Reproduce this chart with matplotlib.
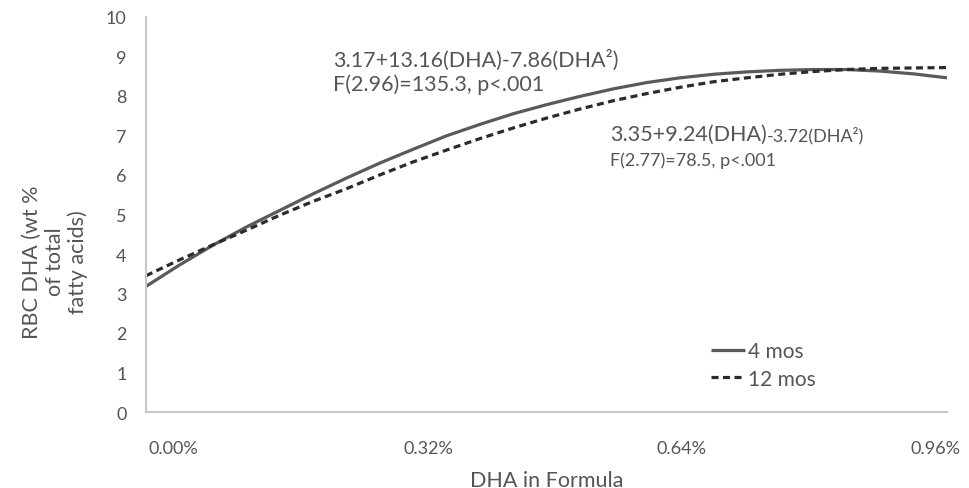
import matplotlib
matplotlib.use("Agg")
import matplotlib.pyplot as plt
from matplotlib.transforms import ScaledTranslation

plt.rcParams['font.family'] = ['Lato', 'DejaVu Sans']

dha = [0.00, 0.04, 0.08, 0.12, 0.16, 0.20, 0.24, 0.28, 0.32, 0.36, 0.40, 0.44, 0.48,
       0.52, 0.56, 0.60, 0.64, 0.68, 0.72, 0.76, 0.80, 0.84, 0.88, 0.92, 0.96]
mos4 = [3.18, 3.72, 4.22, 4.68, 5.10, 5.52, 5.92, 6.30, 6.65, 6.99, 7.28, 7.55, 7.78,
        7.99, 8.18, 8.34, 8.46, 8.55, 8.61, 8.65, 8.67, 8.67, 8.63, 8.56, 8.46]
mos12 = [3.45, 3.85, 4.23, 4.60, 4.98, 5.33, 5.65, 6.00, 6.33, 6.63, 6.92, 7.19, 7.44,
         7.67, 7.88, 8.06, 8.22, 8.36, 8.46, 8.55, 8.62, 8.67, 8.70, 8.71, 8.72]
xticks = [0.00, 0.32, 0.64, 0.96]
xticklabels = ['0.00%', '0.32%', '0.64%', '0.96%']
yticks = list(range(0, 11))

gray = '#555555'
fig = plt.figure(figsize=(9.69, 4.89), dpi=100)
ax = fig.add_axes([146/969, 1-413/489, 801/969, 395/489])

ax.plot(dha, mos4, color='#5a5a5a', lw=2.3, label='4 mos', solid_capstyle='butt')
ax.plot(dha, mos12, color='#2b2b2b', lw=2.3, ls=(0, (2.2, 1.4)), label='12 mos')

ax.set_xlim(0, 0.96)
ax.set_ylim(0, 10)
ax.set_yticks(yticks)
ax.set_xticks(xticks)
ax.set_xticklabels(xticklabels)
ax.tick_params(axis='both', length=0, colors=gray, labelsize=13)
ax.tick_params(axis='x', pad=20)
ax.tick_params(axis='y', pad=14)
# Excel-style label placement offsets (in points)
shifts = [20, 11, 1, -8]
for lab, dx in zip(ax.get_xticklabels(), shifts):
    lab.set_transform(lab.get_transform() + ScaledTranslation(dx/72, 0, fig.dpi_scale_trans))

for s in ['top', 'right']:
    ax.spines[s].set_visible(False)
for s in ['left', 'bottom']:
    ax.spines[s].set_color('#c8c8c8')
    ax.spines[s].set_linewidth(1.5)

ax.set_xlabel('DHA in Formula', color=gray, fontsize=15.5, labelpad=10)
fig.text(55/969, 1-262/489, 'RBC DHA (wt %\nof total\nfatty acids)', rotation=90,
         ha='center', va='center', multialignment='center', color=gray, fontsize=15.5,
         linespacing=1.15)

fig.text(333/969, 1-60/489, '3.17+13.16(DHA)-7.86(DHA\u00b2)', color=gray, fontsize=15.5,
         ha='left', va='center')
fig.text(333/969, 1-85/489, 'F(2.96)=135.3, p<.001', color=gray, fontsize=15.5,
         ha='left', va='center')

t1 = fig.text(610/969, 1-141/489, '3.35+9.24(DHA)', color=gray, fontsize=15.5,
              ha='left', va='baseline')
fig.text(610/969, 1-161/489, 'F(2.77)=78.5, p<.001', color=gray, fontsize=13,
         ha='left', va='center')
fig.canvas.draw()
bb = t1.get_window_extent()
fig.text(bb.x1 / fig.bbox.width, t1.get_position()[1], '-3.72(DHA\u00b2)', color=gray,
         fontsize=13, ha='left', va='baseline')

leg = ax.legend(loc='upper left', bbox_to_anchor=(703/969, 1-334/489), bbox_transform=fig.transFigure,
                frameon=False, fontsize=15, handlelength=1.6, handletextpad=0.15,
                labelspacing=0.35, borderaxespad=0)
for t in leg.get_texts():
    t.set_color(gray)

fig.savefig('out.png', dpi=100)
